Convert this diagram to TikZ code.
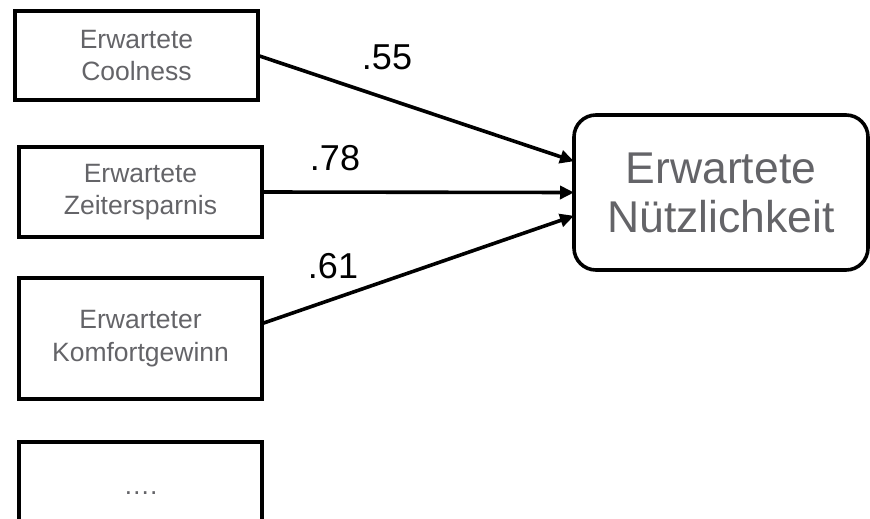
\documentclass[tikz,border=0pt]{standalone}
\usepackage{fontspec}
\setmainfont{Liberation Sans}
\usetikzlibrary{arrows.meta}
\definecolor{txtgray}{RGB}{100,100,104}
\tikzset{
  srcbox/.style={draw=black, line width=3.6pt, rectangle, inner sep=0pt, outer sep=0pt,
    minimum width=243pt, align=center, text=txtgray,
    font=\fontsize{26.5}{32.5}\selectfont},
  bigbox/.style={draw=black, line width=3.6pt, rectangle, rounded corners=22pt, inner sep=0pt,
    outer sep=0pt, minimum width=294pt, minimum height=155pt, align=center, text=txtgray,
    font=\fontsize{44.5}{49}\selectfont},
  conn/.style={line width=3.6pt, -{Triangle[length=14pt,width=13pt]}},
  coef/.style={anchor=base, inner sep=0pt, font=\fontsize{36}{42}\selectfont, text=black}
}
\begin{document}
\begin{tikzpicture}[x=1pt,y=-1pt]
\clip (0,0) rectangle (870,519);
\node[srcbox, minimum height=89pt] (c1) at (136.5,55.5) {Erwartete\\Coolness};
\node[srcbox, minimum height=90pt] (c2) at (140.5,192) {Erwartete\\Zeitersparnis};
\node[srcbox, minimum height=121pt] (c3) at (140.5,338.5) {Erwarteter\\Komfortgewinn};
\node[srcbox, minimum height=110pt, anchor=north] (c4) at (140.5,442) {};
\node[text=txtgray, font=\fontsize{26.5}{32}\selectfont, inner sep=0pt, anchor=base] (dots) at (140.5,494) {….};
\node[bigbox] (big) at (721,192.5) {Erwartete\\Nützlichkeit};
\draw[conn] (c1.east) -- (big.168.3);
\draw[conn] (c2.east) -- (big.west);
\draw[conn] (c3.7) -- (big.189.5);
\node[coef] (l1) at (387,70) {.55};
\node[coef] (l2) at (335,170) {.78};
\node[coef] (l3) at (333,278) {.61};
\end{tikzpicture}
\end{document}
